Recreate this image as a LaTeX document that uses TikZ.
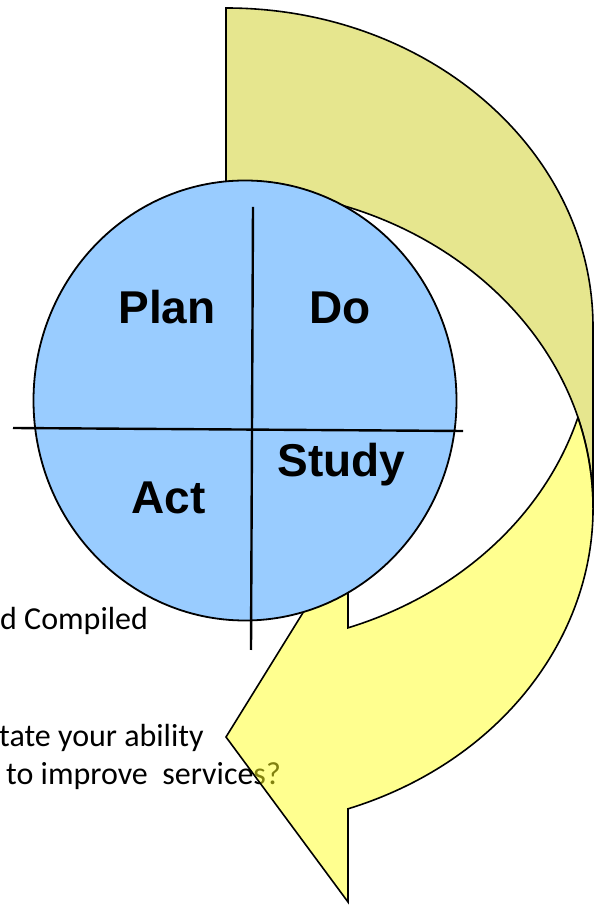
\documentclass[tikz,border=0pt]{standalone}
\usepackage{fontspec}
\usetikzlibrary{shapes.geometric}
\newfontfamily\labelfont{Liberation Sans}
\newfontfamily\notefont{Carlito}
\definecolor{circblue}{RGB}{153,204,255}
\definecolor{backkhaki}{RGB}{230,230,142}
\definecolor{frontyellow}{RGB}{255,255,31}
\tikzset{
  notetext/.style={inner sep=0pt, anchor=base west, font=\notefont\fontsize{32}{36}\selectfont, text=black},
  quadlabel/.style={inner sep=0pt, anchor=base, font=\labelfont\bfseries\fontsize{46}{50}\selectfont},
  backpiece/.style={fill=backkhaki, draw=black, line width=1.6pt, line join=miter},
  frontpiece/.style={fill=frontyellow, fill opacity=0.5, draw=black, draw opacity=1, line width=1.6pt, line join=miter},
  cyclecircle/.style={fill=circblue, draw=black, line width=1.8pt},
  crossline/.style={draw=black, line width=2.4pt},
}
\begin{document}
\begin{tikzpicture}[x=1pt,y=1pt]
\useasboundingbox (0,0) rectangle (603,905);
% partially visible notes
\node[notetext] (n1) at (0,275) {d Compiled};
\node[notetext] (n2) at (-1,158) {tate your ability};
\node[notetext] (n3) at (6,120) {to improve~ services?};
% back part of the curved arrow
\path[backpiece] (593,397) arc[start angle=0, end angle=90, x radius=367, y radius=319]
  -- (226,897) arc[start angle=90, end angle=0, x radius=367, y radius=319] -- cycle;
% front part with arrowhead
\path[frontpiece] (577.9,487.5) arc[start angle=16.48, end angle=-70.58, x radius=367, y radius=319]
  -- (348,3) -- (226,168) -- (348,365) -- (348,277.15)
  arc[start angle=-70.58, end angle=-16.48, x radius=367, y radius=319] -- cycle;
% PDSA circle
\node[cyclecircle, ellipse, minimum width=423pt, minimum height=440pt, inner sep=0pt] (circ) at (245,504.5) {};
\draw[crossline] (253,698) coordinate (vt) -- (251,255) coordinate (vb);
\draw[crossline] (13,477) coordinate (hl) -- (463,474) coordinate (hr);
\node[quadlabel] (plan) at (167,581) {Plan};
\node[quadlabel] (do) at (340,581) {Do};
\node[quadlabel] (study) at (341.5,428) {Study};
\node[quadlabel] (act) at (168.5,391) {Act};
\end{tikzpicture}
\end{document}
